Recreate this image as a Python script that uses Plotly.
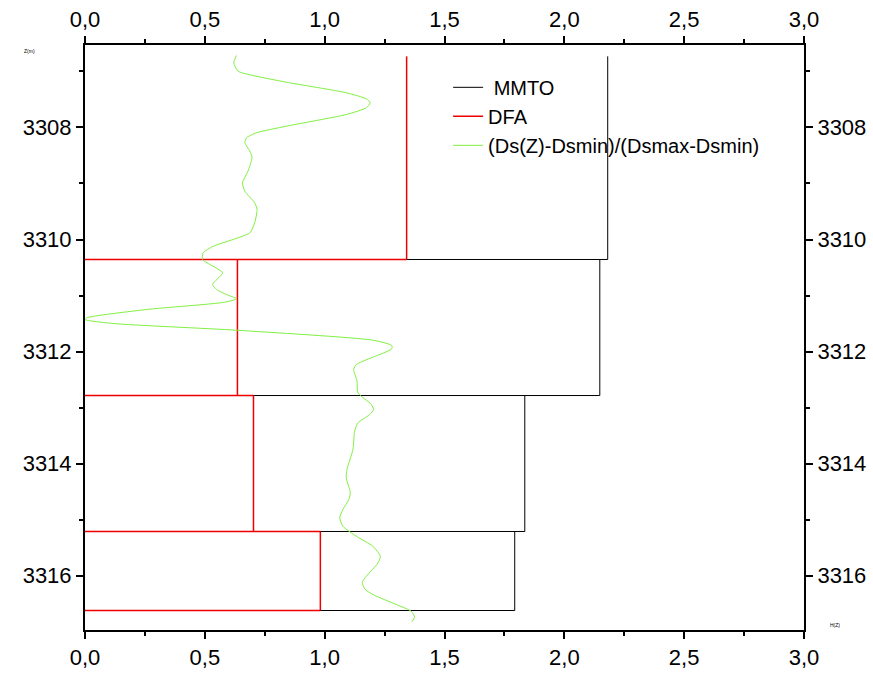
import plotly.graph_objects as go

# Depth boundaries of the intervals (m)
z_bounds = [3306.73, 3310.357, 3312.786, 3315.214, 3316.625]
# Step values per interval
mmto_vals = [2.181, 2.148, 1.835, 1.793]
dfa_vals = [1.342, 0.636, 0.703, 0.982]

# Normalised curve (Ds(Z)-Dsmin)/(Dsmax-Dsmin)
curve_z = [3306.714, 3306.845, 3306.995, 3307.071, 3307.191, 3307.380, 3307.488, 3307.559,
           3307.648, 3307.768, 3307.977, 3308.095, 3308.184, 3308.273, 3308.423, 3308.541,
           3308.780, 3308.988, 3309.138, 3309.345, 3309.464, 3309.702, 3309.880, 3310.000,
           3310.120, 3310.238, 3310.357, 3310.446, 3310.595, 3310.804, 3310.893, 3310.982,
           3311.059, 3311.120, 3311.250, 3311.398, 3311.429, 3311.500, 3311.620, 3311.798,
           3311.893, 3311.952, 3312.232, 3312.321, 3312.530, 3312.738, 3312.946, 3313.036,
           3313.125, 3313.273, 3313.423, 3313.750, 3314.107, 3314.255, 3314.523, 3314.643,
           3314.821, 3314.970, 3315.120, 3315.298, 3315.477, 3315.655, 3315.777, 3316.013,
           3316.120, 3316.238, 3316.339, 3316.518, 3316.638, 3316.745, 3316.827]
curve_x = [0.632, 0.621, 0.639, 0.701, 0.840, 1.090, 1.174, 1.190,
           1.174, 1.090, 0.840, 0.715, 0.674, 0.667, 0.688, 0.697,
           0.680, 0.657, 0.667, 0.708, 0.718, 0.708, 0.688, 0.618,
           0.535, 0.493, 0.490, 0.521, 0.574, 0.532, 0.549, 0.590,
           0.632, 0.583, 0.257, 0.007, 0.000, 0.118, 0.632, 1.201,
           1.280, 1.280, 1.132, 1.121, 1.135, 1.139, 1.195, 1.204,
           1.188, 1.139, 1.125, 1.118, 1.093, 1.090, 1.107, 1.101,
           1.076, 1.063, 1.076, 1.132, 1.201, 1.232, 1.222, 1.174,
           1.157, 1.167, 1.201, 1.299, 1.361, 1.375, 1.364]

x_ticks = [0, 0.5, 1.0, 1.5, 2.0, 2.5, 3.0]
y_ticks = [3308, 3310, 3312, 3314, 3316]


def step_path(vals, bounds):
    """Vertical side of each interval, plus one horizontal per lower boundary
    reaching from 0 to the larger of the two neighbouring values."""
    xs, ys = [], []
    n = len(vals)
    for i, v in enumerate(vals):
        xs += [v, v, None]
        ys += [bounds[i], bounds[i + 1], None]
        reach = max(v, vals[i + 1]) if i < n - 1 else v
        xs += [0, reach, None]
        ys += [bounds[i + 1], bounds[i + 1], None]
    return xs, ys


FONT = "Liberation Sans, Arial, sans-serif"
fig = go.Figure()

mx, my = step_path(mmto_vals, z_bounds)
fig.add_trace(go.Scatter(x=mx, y=my, mode="lines", name=" MMTO",
                         line=dict(color="black", width=1, simplify=False)))
dx, dy = step_path(dfa_vals, z_bounds)
fig.add_trace(go.Scatter(x=dx, y=dy, mode="lines", name="DFA",
                         line=dict(color="#ee0000", width=1.5, simplify=False)))
fig.add_trace(go.Scatter(x=curve_x, y=curve_z, mode="lines",
                         name="(Ds(Z)-Dsmin)/(Dsmax-Dsmin)",
                         line=dict(color="#80f040", width=1, shape="spline", smoothing=0.6)))
fig.add_trace(go.Scatter(x=[], y=[], xaxis="x2", yaxis="y2", showlegend=False))

xr = [0, 3.0]
yr = [3316.973, 3306.527]

common = dict(showline=True, linewidth=2, linecolor="black", ticks="outside",
              ticklen=7, tickwidth=2, tickcolor="black", showgrid=False, zeroline=False,
              automargin=False,
              tickfont=dict(family=FONT, size=22, color="black"))

fig.update_layout(
    width=873, height=675,
    margin=dict(l=85, r=69, t=45, b=45, autoexpand=False),
    paper_bgcolor="white", plot_bgcolor="white",
    separators=", ",
    font=dict(family=FONT, color="black"),
    xaxis=dict(range=xr, tickvals=x_ticks, tickformat=".1f",
               minor=dict(dtick=0.25, ticklen=4, tickwidth=2, tickcolor="black", ticks="outside"),
               **common),
    xaxis2=dict(range=xr, tickvals=x_ticks, tickformat=".1f", overlaying="x", side="top",
                minor=dict(dtick=0.25, ticklen=4, tickwidth=2, tickcolor="black", ticks="outside"),
                **common),
    yaxis=dict(range=yr, tickvals=y_ticks,
               minor=dict(dtick=1, ticklen=4, tickwidth=2, tickcolor="black", ticks="outside"),
               **common),
    yaxis2=dict(range=yr, tickvals=y_ticks, overlaying="y", side="right",
                minor=dict(dtick=1, ticklen=4, tickwidth=2, tickcolor="black", ticks="outside"),
                **common),
    legend=dict(x=0.505, y=0.961, xanchor="left", yanchor="top",
                bgcolor="rgba(0,0,0,0)", borderwidth=0,
                font=dict(family=FONT, size=20, color="black")),
    annotations=[
        dict(text="Z(m)", x=-0.088, y=0.998, xref="paper", yref="paper",
             showarrow=False, font=dict(size=5, family=FONT, color="black")),
        dict(text="H(Z)", x=1.053, y=0.0, xref="paper", yref="paper",
             showarrow=False, font=dict(size=5, family=FONT, color="black")),
    ],
)

fig.write_html("out.html", config={"displayModeBar": False},
               post_script="document.body.style.margin='0';document.body.style.padding='0';")
